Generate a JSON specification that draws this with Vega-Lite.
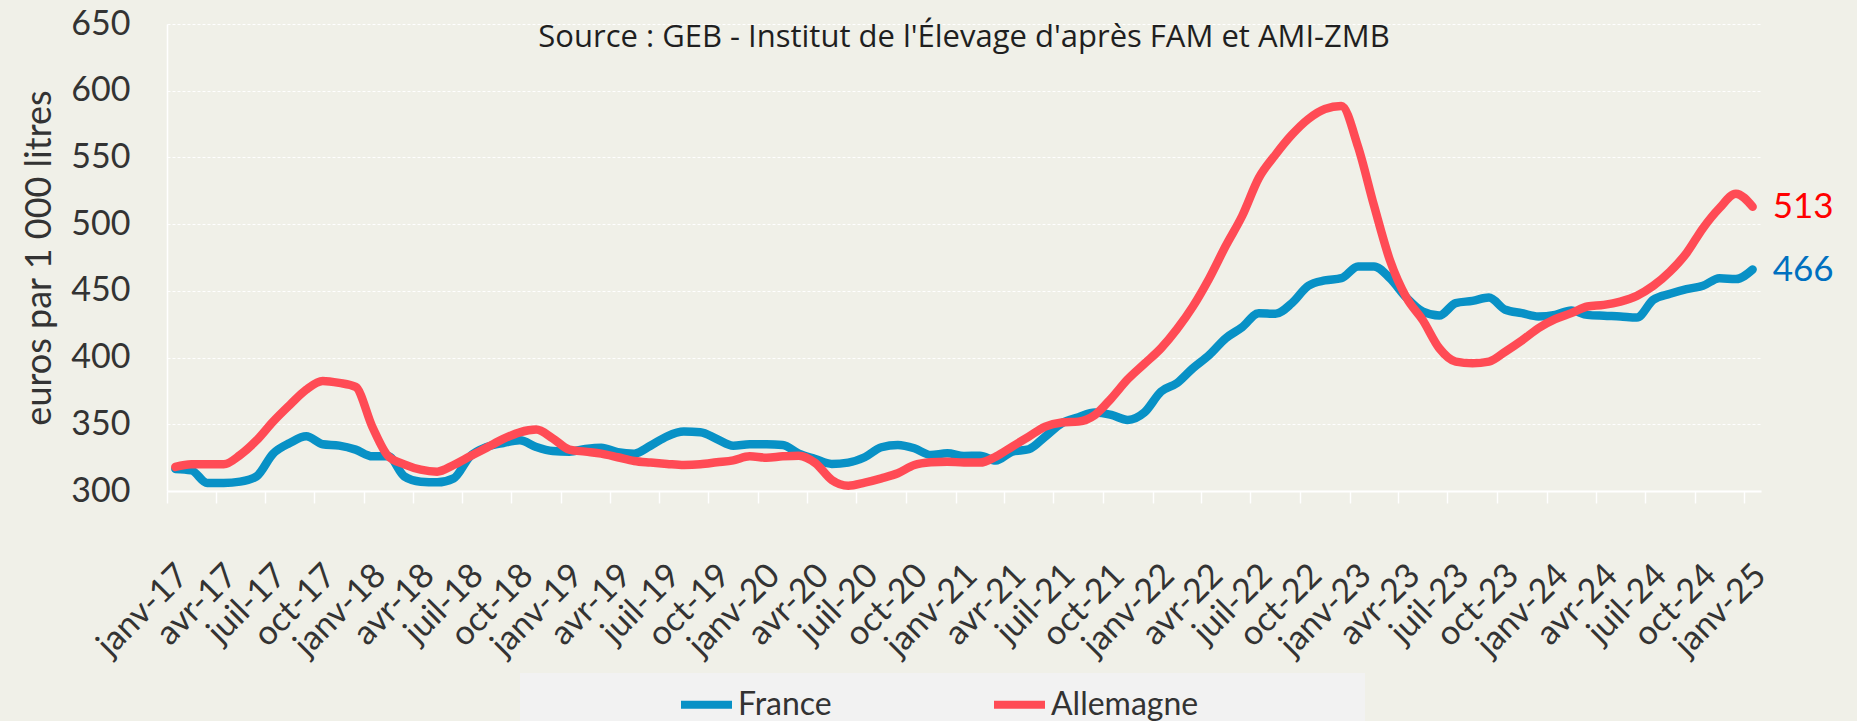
{
  "$schema": "https://vega.github.io/schema/vega-lite/v6.json",
  "width": 1594,
  "height": 467,
  "autosize": {"type": "none"},
  "padding": {"left": 167, "top": 24, "right": 96, "bottom": 230},
  "background": "#F0F0E8",
  "title": {
    "text": "Source : GEB - Institut de l'Élevage d'après FAM et AMI-ZMB",
    "font": "Open Sans", "fontSize": 31, "fontWeight": "normal", "color": "#1F1F1F",
    "anchor": "middle", "frame": "group", "baseline": "alphabetic", "offset": 0, "dy": 71
  },
  "data": {"values": [
    {"date":"2017-01","pays":"France","prix":316.5},{"date":"2017-02","pays":"France","prix":315.5},{"date":"2017-03","pays":"France","prix":306},{"date":"2017-04","pays":"France","prix":306},
    {"date":"2017-05","pays":"France","prix":307},{"date":"2017-06","pays":"France","prix":311},{"date":"2017-07","pays":"France","prix":328},{"date":"2017-08","pays":"France","prix":336},
    {"date":"2017-09","pays":"France","prix":341},{"date":"2017-10","pays":"France","prix":335},{"date":"2017-11","pays":"France","prix":334},{"date":"2017-12","pays":"France","prix":331},
    {"date":"2018-01","pays":"France","prix":326},{"date":"2018-02","pays":"France","prix":326},{"date":"2018-03","pays":"France","prix":311},{"date":"2018-04","pays":"France","prix":307},
    {"date":"2018-05","pays":"France","prix":306.5},{"date":"2018-06","pays":"France","prix":309.5},{"date":"2018-07","pays":"France","prix":326},{"date":"2018-08","pays":"France","prix":333},
    {"date":"2018-09","pays":"France","prix":336},{"date":"2018-10","pays":"France","prix":338},{"date":"2018-11","pays":"France","prix":333},{"date":"2018-12","pays":"France","prix":330},
    {"date":"2019-01","pays":"France","prix":329.5},{"date":"2019-02","pays":"France","prix":331.5},{"date":"2019-03","pays":"France","prix":332.5},{"date":"2019-04","pays":"France","prix":329},
    {"date":"2019-05","pays":"France","prix":328},{"date":"2019-06","pays":"France","prix":334},{"date":"2019-07","pays":"France","prix":341},{"date":"2019-08","pays":"France","prix":344.5},
    {"date":"2019-09","pays":"France","prix":344},{"date":"2019-10","pays":"France","prix":339},{"date":"2019-11","pays":"France","prix":334},{"date":"2019-12","pays":"France","prix":335},
    {"date":"2020-01","pays":"France","prix":335},{"date":"2020-02","pays":"France","prix":334.5},{"date":"2020-03","pays":"France","prix":328},{"date":"2020-04","pays":"France","prix":324},
    {"date":"2020-05","pays":"France","prix":320.3},{"date":"2020-06","pays":"France","prix":321.3},{"date":"2020-07","pays":"France","prix":325.3},{"date":"2020-08","pays":"France","prix":332.8},
    {"date":"2020-09","pays":"France","prix":334.5},{"date":"2020-10","pays":"France","prix":332},{"date":"2020-11","pays":"France","prix":327},{"date":"2020-12","pays":"France","prix":328.3},
    {"date":"2021-01","pays":"France","prix":326.3},{"date":"2021-02","pays":"France","prix":326.5},{"date":"2021-03","pays":"France","prix":322.8},{"date":"2021-04","pays":"France","prix":329.5},
    {"date":"2021-05","pays":"France","prix":331.3},{"date":"2021-06","pays":"France","prix":340.8},{"date":"2021-07","pays":"France","prix":350.8},{"date":"2021-08","pays":"France","prix":355.3},
    {"date":"2021-09","pays":"France","prix":358.8},{"date":"2021-10","pays":"France","prix":357},{"date":"2021-11","pays":"France","prix":353.3},{"date":"2021-12","pays":"France","prix":358.8},
    {"date":"2022-01","pays":"France","prix":374.5},{"date":"2022-02","pays":"France","prix":380.8},{"date":"2022-03","pays":"France","prix":392},{"date":"2022-04","pays":"France","prix":402},
    {"date":"2022-05","pays":"France","prix":414.5},{"date":"2022-06","pays":"France","prix":422.8},{"date":"2022-07","pays":"France","prix":433.3},{"date":"2022-08","pays":"France","prix":432.8},
    {"date":"2022-09","pays":"France","prix":440.8},{"date":"2022-10","pays":"France","prix":453.8},{"date":"2022-11","pays":"France","prix":457.8},{"date":"2022-12","pays":"France","prix":459.5},
    {"date":"2023-01","pays":"France","prix":468.3},{"date":"2023-02","pays":"France","prix":468.3},{"date":"2023-03","pays":"France","prix":459.5},{"date":"2023-04","pays":"France","prix":445},
    {"date":"2023-05","pays":"France","prix":434.5},{"date":"2023-06","pays":"France","prix":431.5},{"date":"2023-07","pays":"France","prix":440.8},{"date":"2023-08","pays":"France","prix":442.5},
    {"date":"2023-09","pays":"France","prix":445},{"date":"2023-10","pays":"France","prix":435.8},{"date":"2023-11","pays":"France","prix":433.3},{"date":"2023-12","pays":"France","prix":430.8},
    {"date":"2024-01","pays":"France","prix":432},{"date":"2024-02","pays":"France","prix":435.3},{"date":"2024-03","pays":"France","prix":432},{"date":"2024-04","pays":"France","prix":431.3},
    {"date":"2024-05","pays":"France","prix":430.8},{"date":"2024-06","pays":"France","prix":430},{"date":"2024-07","pays":"France","prix":443.3},{"date":"2024-08","pays":"France","prix":447.8},
    {"date":"2024-09","pays":"France","prix":451.3},{"date":"2024-10","pays":"France","prix":453.8},{"date":"2024-11","pays":"France","prix":459.5},{"date":"2024-12","pays":"France","prix":458.8},
    {"date":"2025-01","pays":"France","prix":466},
    {"date":"2017-01","pays":"Allemagne","prix":318},{"date":"2017-02","pays":"Allemagne","prix":320},{"date":"2017-03","pays":"Allemagne","prix":320},{"date":"2017-04","pays":"Allemagne","prix":320},
    {"date":"2017-05","pays":"Allemagne","prix":327},{"date":"2017-06","pays":"Allemagne","prix":338},{"date":"2017-07","pays":"Allemagne","prix":352},{"date":"2017-08","pays":"Allemagne","prix":364.5},
    {"date":"2017-09","pays":"Allemagne","prix":376},{"date":"2017-10","pays":"Allemagne","prix":382.5},{"date":"2017-11","pays":"Allemagne","prix":381},{"date":"2017-12","pays":"Allemagne","prix":378},
    {"date":"2018-01","pays":"Allemagne","prix":348},{"date":"2018-02","pays":"Allemagne","prix":326},{"date":"2018-03","pays":"Allemagne","prix":320},{"date":"2018-04","pays":"Allemagne","prix":316},
    {"date":"2018-05","pays":"Allemagne","prix":314.5},{"date":"2018-06","pays":"Allemagne","prix":319.5},{"date":"2018-07","pays":"Allemagne","prix":326},{"date":"2018-08","pays":"Allemagne","prix":332.5},
    {"date":"2018-09","pays":"Allemagne","prix":339},{"date":"2018-10","pays":"Allemagne","prix":344},{"date":"2018-11","pays":"Allemagne","prix":346},{"date":"2018-12","pays":"Allemagne","prix":339.5},
    {"date":"2019-01","pays":"Allemagne","prix":331},{"date":"2019-02","pays":"Allemagne","prix":329.5},{"date":"2019-03","pays":"Allemagne","prix":328},{"date":"2019-04","pays":"Allemagne","prix":325.3},
    {"date":"2019-05","pays":"Allemagne","prix":322.5},{"date":"2019-06","pays":"Allemagne","prix":321.3},{"date":"2019-07","pays":"Allemagne","prix":320.3},{"date":"2019-08","pays":"Allemagne","prix":319.5},
    {"date":"2019-09","pays":"Allemagne","prix":320},{"date":"2019-10","pays":"Allemagne","prix":321.5},{"date":"2019-11","pays":"Allemagne","prix":323},{"date":"2019-12","pays":"Allemagne","prix":326},
    {"date":"2020-01","pays":"Allemagne","prix":325},{"date":"2020-02","pays":"Allemagne","prix":326},{"date":"2020-03","pays":"Allemagne","prix":326.5},{"date":"2020-04","pays":"Allemagne","prix":321},
    {"date":"2020-05","pays":"Allemagne","prix":308.3},{"date":"2020-06","pays":"Allemagne","prix":304},{"date":"2020-07","pays":"Allemagne","prix":306.3},{"date":"2020-08","pays":"Allemagne","prix":309.5},
    {"date":"2020-09","pays":"Allemagne","prix":313.3},{"date":"2020-10","pays":"Allemagne","prix":319.5},{"date":"2020-11","pays":"Allemagne","prix":321.5},{"date":"2020-12","pays":"Allemagne","prix":322},
    {"date":"2021-01","pays":"Allemagne","prix":321.3},{"date":"2021-02","pays":"Allemagne","prix":321.3},{"date":"2021-03","pays":"Allemagne","prix":325.8},{"date":"2021-04","pays":"Allemagne","prix":333.3},
    {"date":"2021-05","pays":"Allemagne","prix":340.8},{"date":"2021-06","pays":"Allemagne","prix":348.3},{"date":"2021-07","pays":"Allemagne","prix":351.3},{"date":"2021-08","pays":"Allemagne","prix":352},
    {"date":"2021-09","pays":"Allemagne","prix":357},{"date":"2021-10","pays":"Allemagne","prix":369.5},{"date":"2021-11","pays":"Allemagne","prix":383.8},{"date":"2021-12","pays":"Allemagne","prix":395.3},
    {"date":"2022-01","pays":"Allemagne","prix":407},{"date":"2022-02","pays":"Allemagne","prix":421.3},{"date":"2022-03","pays":"Allemagne","prix":438.3},{"date":"2022-04","pays":"Allemagne","prix":459.5},
    {"date":"2022-05","pays":"Allemagne","prix":483.8},{"date":"2022-06","pays":"Allemagne","prix":506.3},{"date":"2022-07","pays":"Allemagne","prix":534.5},{"date":"2022-08","pays":"Allemagne","prix":552},
    {"date":"2022-09","pays":"Allemagne","prix":567},{"date":"2022-10","pays":"Allemagne","prix":578.8},{"date":"2022-11","pays":"Allemagne","prix":586.3},{"date":"2022-12","pays":"Allemagne","prix":588.5},
    {"date":"2023-01","pays":"Allemagne","prix":558},{"date":"2023-02","pays":"Allemagne","prix":514},{"date":"2023-03","pays":"Allemagne","prix":473},{"date":"2023-04","pays":"Allemagne","prix":445},
    {"date":"2023-05","pays":"Allemagne","prix":428},{"date":"2023-06","pays":"Allemagne","prix":407},{"date":"2023-07","pays":"Allemagne","prix":397},{"date":"2023-08","pays":"Allemagne","prix":395.8},
    {"date":"2023-09","pays":"Allemagne","prix":397},{"date":"2023-10","pays":"Allemagne","prix":404.5},{"date":"2023-11","pays":"Allemagne","prix":412.8},{"date":"2023-12","pays":"Allemagne","prix":422},
    {"date":"2024-01","pays":"Allemagne","prix":428.8},{"date":"2024-02","pays":"Allemagne","prix":433.3},{"date":"2024-03","pays":"Allemagne","prix":438.3},{"date":"2024-04","pays":"Allemagne","prix":439.5},
    {"date":"2024-05","pays":"Allemagne","prix":442},{"date":"2024-06","pays":"Allemagne","prix":446.3},{"date":"2024-07","pays":"Allemagne","prix":453.8},{"date":"2024-08","pays":"Allemagne","prix":464.5},
    {"date":"2024-09","pays":"Allemagne","prix":478.3},{"date":"2024-10","pays":"Allemagne","prix":497},{"date":"2024-11","pays":"Allemagne","prix":512},{"date":"2024-12","pays":"Allemagne","prix":522.8},
    {"date":"2025-01","pays":"Allemagne","prix":513}
  ]},
  "encoding": {
    "x": {
      "field": "date", "timeUnit": "utcyearmonth", "type": "temporal", "bandPosition": 0.5,
      "scale": {"domain": [{"year": 2017, "month": 1, "date": 1, "utc": true}, {"year": 2025, "month": 2, "date": 1, "utc": true}], "nice": false},
      "axis": {
        "title": null,
        "tickCount": {"interval": "month", "step": 3},
        "labelExpr": "['janv','févr','mars','avr','mai','juin','juil','août','sept','oct','nov','déc'][utcmonth(datum.value)] + '-' + utcFormat(datum.value, '%y')",
        "labelAngle": -45, "labelAlign": "right", "labelBaseline": "middle",
        "labelFont": "Lato", "labelFontSize": 34, "labelColor": "#333333",
        "labelPadding": 67, "labelOffset": 16,
        "labelOverlap": false, "labelBound": false, "labelFlush": false,
        "ticks": true, "tickColor": "#FFFFFF", "tickSize": 12, "tickWidth": 1.5,
        "domainColor": "#FFFFFF", "domainWidth": 2, "grid": false
      }
    },
    "y": {
      "field": "prix", "type": "quantitative",
      "scale": {"domain": [300, 650], "nice": false, "zero": false},
      "axis": {
        "values": [300, 350, 400, 450, 500, 550, 600, 650],
        "title": "euros par 1 000 litres", "titleFont": "Lato", "titleFontSize": 36, "titleFontWeight": "normal", "titleColor": "#333333", "titlePadding": 12,
        "labelFont": "Lato", "labelFontSize": 34, "labelColor": "#333333", "labelPadding": 37,
        "ticks": false, "tickSize": 0,
        "domainColor": "#FFFFFF", "domainWidth": 1.5,
        "grid": true, "gridColor": "#FFFFFF", "gridDash": [3, 2], "gridWidth": 1
      }
    }
  },
  "layer": [
    {
      "transform": [{"filter": "datum.pays === 'France'"}],
      "mark": {"type": "line", "strokeWidth": 8.5, "strokeCap": "round", "strokeJoin": "round", "interpolate": "monotone"},
      "encoding": {"color": {"field": "pays", "type": "nominal",
        "scale": {"domain": ["France", "Allemagne"], "range": ["#0891C6", "#FF4B55"]},
        "legend": {
          "orient": "none", "legendX": 353, "legendY": 649, "direction": "horizontal",
          "fillColor": "#F2F2F2", "padding": 2,
          "title": "\u00a0", "titleOrient": "left", "titlePadding": 155, "titleFontSize": 32,
          "labelFont": "Lato", "labelFontSize": 32, "labelColor": "#333333", "labelOffset": 2, "labelLimit": 0,
          "labelExpr": "datum.label === 'Allemagne' ? datum.label + '\u00a0\u00a0\u00a0\u00a0\u00a0\u00a0\u00a0\u00a0\u00a0\u00a0\u00a0\u00a0\u00a0\u00a0\u00a0\u00a0\u00a0\u00a0\u00a0\u00a0\u200b' : datum.label",
          "symbolType": "stroke", "symbolSize": 2601, "symbolStrokeWidth": 8, "columnPadding": 146
        }
      }}
    },
    {
      "transform": [{"filter": "datum.pays === 'Allemagne'"}],
      "mark": {"type": "line", "strokeWidth": 8.5, "strokeCap": "round", "strokeJoin": "round", "interpolate": "monotone"},
      "encoding": {"color": {"field": "pays", "type": "nominal"}}
    },
    {
      "transform": [{"filter": "utcyear(datum.date) === 2025"}],
      "mark": {"type": "text", "align": "left", "baseline": "middle", "dx": 20, "font": "Lato", "fontSize": 35},
      "encoding": {
        "text": {"field": "prix", "type": "quantitative", "format": ".0f"},
        "color": {"condition": {"test": "datum.pays === 'France'", "value": "#0070C0"}, "value": "#FF0000"}
      }
    }
  ],
  "config": {"view": {"stroke": null}}
}
